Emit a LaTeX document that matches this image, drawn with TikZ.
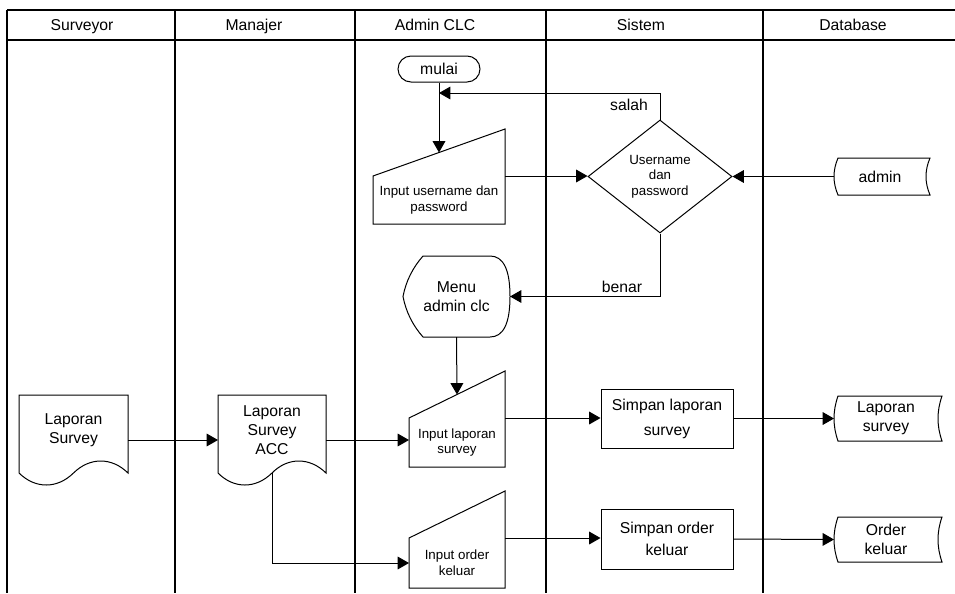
\documentclass[tikz,border=0pt]{standalone}
\usepackage{fontspec}
\setmainfont{Liberation Sans}
\usetikzlibrary{arrows.meta,calc,shapes.geometric,shapes.misc}

% stored-data outline around a node (curved left and right sides)
\newcommand\datastore[1]{%
  \draw[shp] ($(#1.north west)+(8,0)$) -- (#1.north east)
    .. controls ($(#1.north east)!1/3!(#1.south east)+(-5.33,0)$) and ($(#1.north east)!2/3!(#1.south east)+(-5.33,0)$) .. (#1.south east)
    -- ($(#1.south west)+(8,0)$)
    .. controls ($(#1.south west)!1/3!(#1.north west)+(2.67,0)$) and ($(#1.south west)!2/3!(#1.north west)+(2.67,0)$) .. ($(#1.north west)+(8,0)$)
    -- cycle;}

% manual-input outline: rectangular body with a slanted top rising to the right
\newcommand\manualinput[1]{%
  \draw[shp] (#1.north west) -- ($(#1.north east)+(0,-47)$) -- (#1.south east) -- (#1.south west) -- cycle;
  \coordinate (#1-top) at ($(#1.north)+(0,-23.5)$);}

% document outline: body with a wavy bottom edge
\newcommand\docshape[1]{%
  \draw[shp] (#1.north west) -- (#1.north east) -- ($(#1.north east)+(0,78)$)
    .. controls ($(#1.north east)+(-16.3,62)$) and ($(#1.north east)+(-38.2,62)$) .. ($(#1.north)+(0,78)$)
    .. controls ($(#1.north)+(-16.3,94)$) and ($(#1.north)+(-38.2,94)$) .. ($(#1.north west)+(0,78)$)
    -- cycle;
  \coordinate (#1-bottom) at ($(#1.north)+(0,78)$);}

\begin{document}
\begin{tikzpicture}[x=0.75pt,y=-0.75pt,
  lane/.style={line width=1.5pt},
  shp/.style={draw,line width=0.75pt},
  conn/.style={line width=0.75pt,-{Triangle[length=8.5pt,width=9.5pt]}},
  big/.style={font=\fontsize{11.8}{14.5}\selectfont,align=center},
  small/.style={font=\fontsize{10}{11.7}\selectfont,align=center},
  head/.style={font=\fontsize{11.8}{14.5}\selectfont,anchor=base},
  box/.style={inner sep=0pt,outer sep=0pt},
]
\useasboundingbox (0,0) rectangle (955,593);

% swimlane frame
\draw[lane] (7.3,9.5) -- (955,9.5);
\draw[lane] (7.3,39.5) -- (955,39.5);
\foreach \lx in {7.3,175,355,546,763}
  \draw[lane] (\lx,9.5) -- (\lx,593);

% lane headers
\node[head] (hsurveyor) at (82,30.5) {Surveyor};
\node[head] (hmanajer) at (254,30.5) {Manajer};
\node[head] (hadmin) at (435,30.5) {Admin CLC};
\node[head] (hsistem) at (641,30.5) {Sistem};
\node[head] (hdatabase) at (853,30.5) {Database};

% login part
\node[shp,big,rounded rectangle,minimum width=82*.75pt,minimum height=26*.75pt,inner sep=0pt] (mulai) at (439,69) {mulai};

\node[box,small,minimum width=132*.75pt,minimum height=48*.75pt] (inuser) at (439,200) {Input username dan\\password};
\manualinput{inuser}

\node[shp,diamond,small,minimum width=144*.75pt,minimum height=113*.75pt,inner sep=0pt] (cek) at (660,176.5) {Username\\dan\\password};

\node[box,big,minimum width=100*.75pt,minimum height=37*.75pt] (admin) at (880,176.5) {admin};
\datastore{admin}
\coordinate (admin-in) at ($(admin.west)+(4,0)$);

\node[box,big,minimum width=107*.75pt,minimum height=81*.75pt] (menu) at (456.5,296.5) {Menu\\admin clc};
\draw[shp] (menu.west)
  .. controls ($(menu.west)+(3,-15.5)$) and ($(menu.west)+(9.7,-28.8)$) .. ($(menu.north west)+(20,0)$)
  -- ($(menu.north east)+(-20,0)$)
  .. controls ($(menu.north east)+(-6.67,0)$) and ($(menu.north east)!1/3!(menu.east)$) .. (menu.east)
  .. controls ($(menu.east)!2/3!(menu.south east)$) and ($(menu.south east)+(-6.67,0)$) .. ($(menu.south east)+(-20,0)$)
  -- ($(menu.south west)+(20,0)$)
  .. controls ($(menu.west)+(9.7,28.8)$) and ($(menu.west)+(3,15.5)$) .. (menu.west) -- cycle;

\coordinate (loopin) at (439,93);
\node[big] (lblsalah) at (629,105) {salah};
\node[big] (lblbenar) at (622,287) {benar};

\draw[conn] (mulai.south) -- (inuser-top);
\draw[conn] (inuser.north east) -- (cek.west |- inuser.north east);
\draw[conn] (admin-in) -- (cek.east);
\draw[conn] (cek.north) |- (loopin);
\draw[conn] (cek.south) |- (menu.east);

% survey report documents
\node[box,minimum width=109*.75pt,minimum height=90*.75pt] (lapsurv) at (73.5,440) {};
\docshape{lapsurv}
\node[big] (lapsurv-text) at (73.5,430) {Laporan\\Survey};

\node[box,minimum width=108*.75pt,minimum height=90*.75pt] (acc) at (272,440) {};
\docshape{acc}
\node[big] (acc-text) at (272,430) {Laporan\\Survey\\ACC};

% admin inputs
\node[box,small,minimum width=96*.75pt,minimum height=49*.75pt] (inlap) at (457,442.5) {Input laporan\\survey};
\manualinput{inlap}
\node[box,small,minimum width=96*.75pt,minimum height=50*.75pt] (inord) at (457,563) {Input order\\keluar};
\manualinput{inord}

% system processes
\node[shp,font=\fontsize{11.8}{18.75}\selectfont,align=center,minimum width=132*.75pt,minimum height=59*.75pt,inner sep=0pt] (simlap) at (667,418.5) {Simpan laporan\\survey};
\node[shp,font=\fontsize{11.8}{16.5}\selectfont,align=center,minimum width=132*.75pt,minimum height=60*.75pt,inner sep=0pt] (simord) at (667,539) {Simpan order\\keluar};

% database stores
\node[box,big,minimum width=112*.75pt,minimum height=45*.75pt] (storlap) at (886,418.5) {Laporan\\survey};
\datastore{storlap}
\node[box,big,minimum width=112*.75pt,minimum height=45*.75pt] (storord) at (886,539.5) {Order\\keluar};
\datastore{storord}

% connectors
\draw[conn] (menu.south) -- (inlap-top);
\draw[conn] (lapsurv.east) -- (acc.west);
\draw[conn] (acc.east) -- (inlap.west |- acc.east);
\draw[conn] (acc-bottom) |- (inord.west);
\draw[conn] (inlap.north east) -- (simlap.west |- inlap.north east);
\draw[conn] (inord.north east) -- (simord.west |- inord.north east);
\draw[conn] (simlap.east) -- ($(storlap.west)+(4,0)$);
\draw[conn] (simord.east) -- ($(storord.west)+(4,0)$);
\end{tikzpicture}
\end{document}
